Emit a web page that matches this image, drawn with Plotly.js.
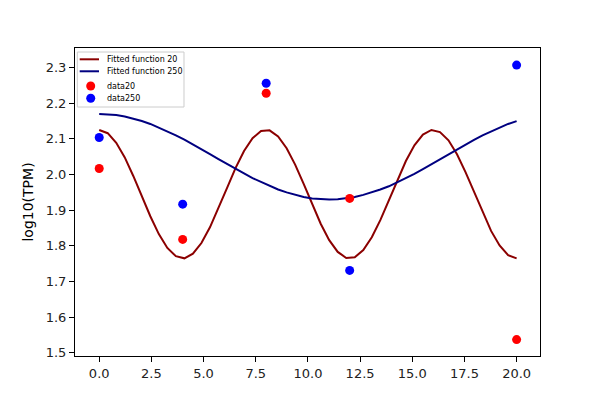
<!DOCTYPE html>
<html>
<head>
<meta charset="utf-8">
<script src="https://cdn.plot.ly/plotly-3.0.1.min.js"></script>
<style>html,body{margin:0;padding:0;background:#fff;}#chart{width:600px;height:400px;}</style>
</head>
<body>
<div id="chart"></div>
<script>
// sample positions of the fitted curves
var fitX = [0, 0.408, 0.816, 1.224, 1.633, 2.041, 2.449, 2.857, 3.265, 3.673,
  4.082, 4.490, 4.898, 5.306, 5.714, 6.122, 6.531, 6.939, 7.347, 7.755,
  8.163, 8.571, 8.980, 9.388, 9.796, 10.204, 10.612, 11.020, 11.429, 11.837,
  12.245, 12.653, 13.061, 13.469, 13.878, 14.286, 14.694, 15.102, 15.510, 15.918,
  16.327, 16.735, 17.143, 17.551, 17.959, 18.367, 18.776, 19.184, 19.592, 20.0];
var fit20 = [2.125, 2.116, 2.089, 2.048, 1.996, 1.939, 1.883, 1.833, 1.794, 1.771,
  1.765, 1.778, 1.808, 1.852, 1.905, 1.962, 2.018, 2.066, 2.102, 2.122,
  2.124, 2.107, 2.074, 2.028, 1.974, 1.916, 1.862, 1.816, 1.783, 1.766,
  1.768, 1.788, 1.824, 1.872, 1.928, 1.985, 2.038, 2.082, 2.112, 2.125,
  2.119, 2.096, 2.057, 2.007, 1.951, 1.894, 1.842, 1.801, 1.774, 1.765];
var fit250 = [2.170, 2.169, 2.167, 2.163, 2.157, 2.150, 2.142, 2.132, 2.122, 2.110,
  2.098, 2.085, 2.071, 2.057, 2.043, 2.029, 2.016, 2.003, 1.990, 1.979,
  1.968, 1.958, 1.950, 1.943, 1.937, 1.933, 1.931, 1.930, 1.931, 1.933,
  1.937, 1.943, 1.950, 1.958, 1.967, 1.978, 1.990, 2.002, 2.015, 2.029,
  2.043, 2.056, 2.070, 2.084, 2.097, 2.110, 2.121, 2.132, 2.142, 2.150];
// measured data points
var dataX = [0, 4, 8, 12, 20];
var data20 = [2.017, 1.818, 2.228, 1.933, 1.537];
var data250 = [2.104, 1.917, 2.256, 1.731, 2.307];
var xTicks = [0, 2.5, 5, 7.5, 10, 12.5, 15, 17.5, 20];
var yTicks = [1.5, 1.6, 1.7, 1.8, 1.9, 2.0, 2.1, 2.2, 2.3];
var seriesNames = ['Fitted function 20', 'Fitted function 250', 'data20', 'data250'];
var seriesColors = ['#8B0000', '#000080', '#ff0000', '#0000ff'];

var traces = [
  {x: fitX, y: fit20, mode: 'lines', name: seriesNames[0], line: {color: seriesColors[0], width: 2}},
  {x: fitX, y: fit250, mode: 'lines', name: seriesNames[1], line: {color: seriesColors[1], width: 2}},
  {x: dataX, y: data20, mode: 'markers', name: seriesNames[2], marker: {color: seriesColors[2], size: 9}},
  {x: dataX, y: data250, mode: 'markers', name: seriesNames[3], marker: {color: seriesColors[3], size: 9}}
];

// compact legend (matplotlib style) drawn in paper coordinates
var legRowsY = [0.9633, 0.9244, 0.8766, 0.8367];
var shapes = [{type: 'rect', xref: 'paper', yref: 'paper', x0: 0.005, x1: 0.2344, y0: 0.8084, y1: 0.987,
  line: {color: '#cccccc', width: 1}, fillcolor: 'rgba(255,255,255,0.8)', layer: 'above'}];
var annotations = [];
seriesNames.forEach(function(nm, i) {
  var yy = legRowsY[i];
  if (i < 2) {
    shapes.push({type: 'line', xref: 'paper', yref: 'paper', x0: 0.0101, x1: 0.0516, y0: yy, y1: yy,
      line: {color: seriesColors[i], width: 2}, layer: 'above'});
  } else {
    shapes.push({type: 'circle', xref: 'paper', yref: 'paper', xsizemode: 'pixel', ysizemode: 'pixel',
      xanchor: 0.0338, yanchor: yy, x0: -4.5, x1: 4.5, y0: -4.5, y1: 4.5,
      line: {width: 0}, fillcolor: seriesColors[i], layer: 'above'});
  }
  annotations.push({xref: 'paper', yref: 'paper', x: 0.0645, y: yy, xanchor: 'left', yanchor: 'middle',
    text: nm, showarrow: false, font: {family: 'DejaVu Sans', size: 8, color: '#000'}});
});

var axisCommon = {
  showgrid: false, zeroline: false, showline: true, mirror: true,
  linecolor: '#000', linewidth: 1, ticks: 'outside', ticklen: 5, tickwidth: 1,
  tickcolor: '#000', tickfont: {family: 'DejaVu Sans', size: 13, color: '#222'}
};
var layout = {
  width: 600, height: 400,
  margin: {l: 75, r: 60, t: 48, b: 44},
  paper_bgcolor: '#fff', plot_bgcolor: '#fff',
  font: {family: 'DejaVu Sans', color: '#000'},
  xaxis: Object.assign({}, axisCommon, {range: [-1.16, 21.12], tickvals: xTicks,
    ticktext: xTicks.map(function(v){return v.toFixed(1);})}),
  yaxis: Object.assign({}, axisCommon, {range: [1.491, 2.355], tickvals: yTicks,
    ticktext: yTicks.map(function(v){return v.toFixed(1);}),
    title: {text: 'log10(TPM)', font: {family: 'DejaVu Sans', size: 14, color: '#000'}, standoff: 8}}),
  showlegend: false,
  shapes: shapes,
  annotations: annotations
};
Plotly.newPlot('chart', traces, layout, {displayModeBar: false, staticPlot: true});
</script>
</body>
</html>
